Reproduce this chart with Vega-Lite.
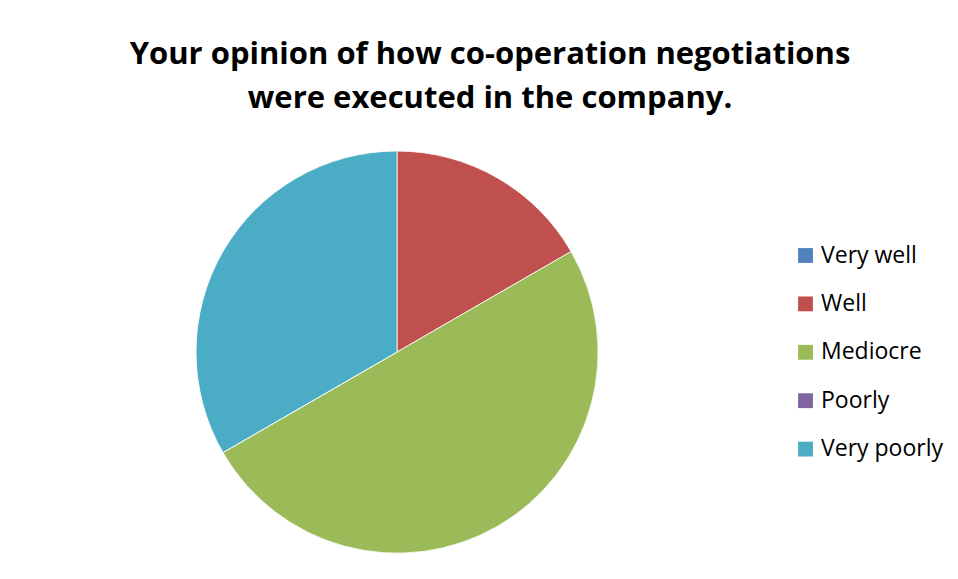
{
  "$schema": "https://vega.github.io/schema/vega-lite/v6.json",
  "autosize": {"type": "none"},
  "width": 402,
  "height": 402,
  "padding": {"left": 196, "top": 151, "right": 360, "bottom": 26},
  "background": "white",
  "config": {"view": {"stroke": null}},
  "title": {
    "text": ["Your opinion of how co-operation negotiations", "were executed in the company."],
    "font": "Open Sans",
    "fontSize": 31,
    "fontWeight": "bold",
    "color": "#000000",
    "anchor": "middle",
    "lineHeight": 44,
    "dx": 93,
    "offset": 34
  },
  "data": {
    "values": [
      {"answer": "Very well", "count": 0, "rank": 1},
      {"answer": "Well", "count": 1, "rank": 2},
      {"answer": "Mediocre", "count": 3, "rank": 3},
      {"answer": "Poorly", "count": 0, "rank": 4},
      {"answer": "Very poorly", "count": 2, "rank": 5}
    ]
  },
  "mark": {"type": "arc", "stroke": "#ffffff", "strokeWidth": 0.8},
  "encoding": {
    "theta": {"field": "count", "type": "quantitative", "stack": true},
    "order": {"field": "rank", "type": "quantitative"},
    "color": {
      "field": "answer",
      "type": "nominal",
      "sort": ["Very well", "Well", "Mediocre", "Poorly", "Very poorly"],
      "scale": {
        "domain": ["Very well", "Well", "Mediocre", "Poorly", "Very poorly"],
        "range": ["#4F81BD", "#C0504D", "#9BBB59", "#8064A2", "#4BACC6"]
      },
      "legend": {
        "title": null,
        "orient": "none",
        "legendX": 598,
        "legendY": 93,
        "symbolType": "square",
        "symbolSize": 220,
        "symbolStrokeWidth": 0,
        "labelFont": "Open Sans",
        "labelFontSize": 23,
        "labelColor": "#000000",
        "labelOffset": 4,
        "rowPadding": 24.4,
        "padding": 0
      }
    }
  }
}
